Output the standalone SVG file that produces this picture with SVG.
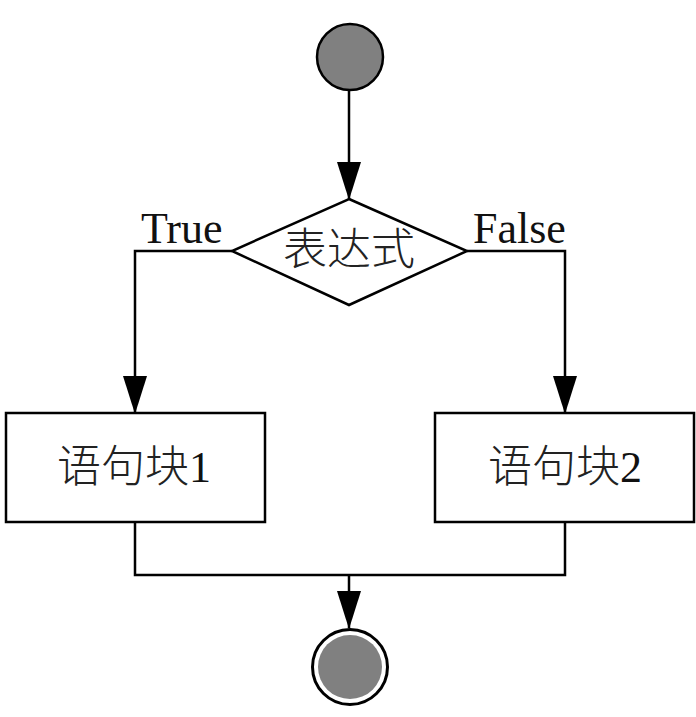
<svg xmlns="http://www.w3.org/2000/svg" width="696" height="717" viewBox="0 0 696 717">
<style>
.ln{fill:none;stroke:#000;stroke-width:2.5}
.box{fill:#fff;stroke:#000;stroke-width:2.5}
.lbl{font-family:"Liberation Serif",serif;font-size:44px;fill:#111}
.cjk{font-family:"Noto Sans CJK SC",sans-serif;font-size:44px;fill:#222;font-weight:300}
</style>
<defs>
<marker id="arr" viewBox="0 0 38 24" markerUnits="userSpaceOnUse" markerWidth="38" markerHeight="24" refX="37" refY="12" orient="auto">
<path d="M0,0 L38,12 L0,24 Z" fill="#000"/>
</marker>
</defs>
<rect width="696" height="717" fill="#fff"/>
<g id="connectors">
<path class="ln" d="M349,90 L349,199" marker-end="url(#arr)"/>
<path class="ln" d="M232,251 L135,251 L135,413" marker-end="url(#arr)"/>
<path class="ln" d="M467,251 L565,251 L565,413" marker-end="url(#arr)"/>
<path class="ln" d="M135,522 L135,575 L565,575 L565,522"/>
<path class="ln" d="M349,575 L349,628" marker-end="url(#arr)"/>
<text class="lbl" x="141" y="243">True</text>
<text class="lbl" x="473" y="243">False</text>
</g>
<g id="start">
<circle cx="350" cy="57" r="33" fill="#808080" stroke="#000" stroke-width="2.5"/>
</g>
<g id="decision">
<polygon class="box" points="349,199 467,251 349,305 232,251" stroke-width="2.2"/>
<text class="cjk" x="349" y="265" text-anchor="middle">表达式</text>
</g>
<g id="block1">
<rect class="box" x="6" y="413" width="259" height="109"/>
<text class="cjk" x="57" y="482">语句块</text>
<text class="lbl" x="189" y="482" fill="#222">1</text>
</g>
<g id="block2">
<rect class="box" x="435" y="413" width="259" height="109"/>
<text class="cjk" x="488" y="482">语句块</text>
<text class="lbl" x="620" y="482" fill="#222">2</text>
</g>
<g id="end">
<circle cx="350" cy="667" r="37.5" fill="#fff" stroke="#000" stroke-width="3"/>
<circle cx="350" cy="667" r="32" fill="#808080"/>
</g>
</svg>
